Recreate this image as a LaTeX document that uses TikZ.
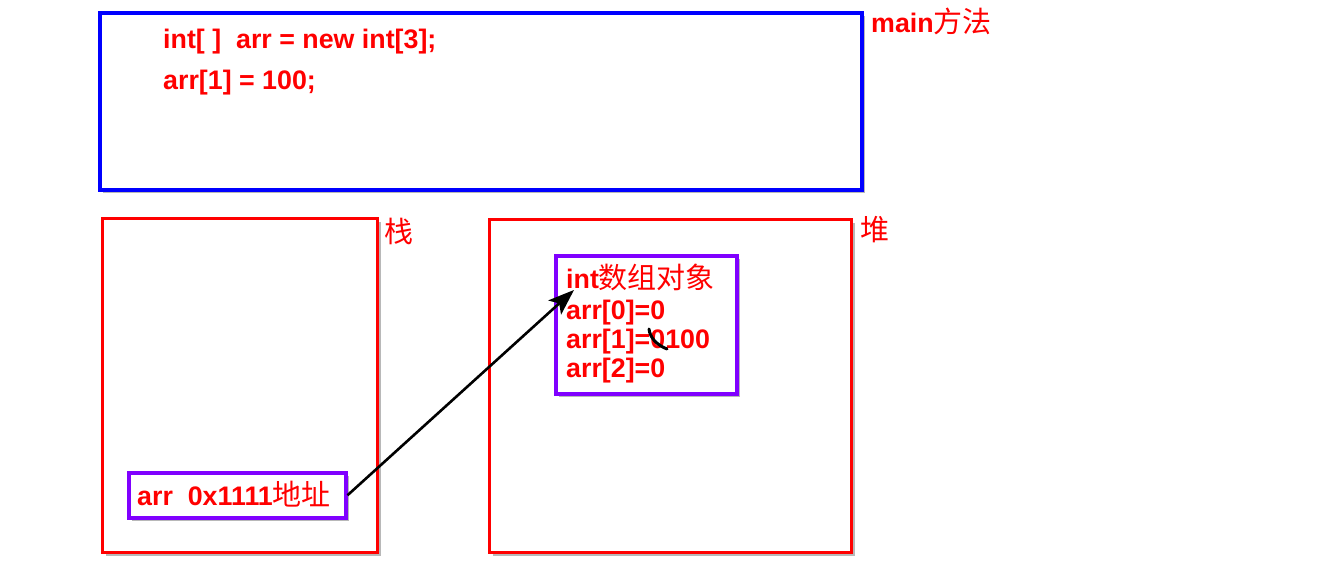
\documentclass[tikz,border=0pt]{standalone}
\usepackage{fontspec}
\setmainfont{Liberation Sans}
\newfontfamily\cjk{Noto Sans CJK SC}
\usetikzlibrary{shadows,arrows.meta}
\definecolor{myred}{RGB}{255,0,0}
\definecolor{myblue}{RGB}{0,0,255}
\definecolor{mypurple}{RGB}{128,0,255}
\newcommand{\zh}[1]{{\cjk\fontsize{29}{30}\selectfont #1}}
\tikzset{
  box/.style={rectangle, draw, fill=white, inner sep=0pt, anchor=north west,
    drop shadow={shadow xshift=3.5pt, shadow yshift=-3.5pt, opacity=0.5, fill=black!55}},
  bluebox/.style={box, draw=myblue, line width=3.5pt},
  redbox/.style={box, draw=myred, line width=3pt},
  purplebox/.style={box, draw=mypurple, line width=3.5pt},
  txt/.style={inner sep=0pt, anchor=base west, text=myred,
    font=\fontsize{26.8}{30}\selectfont\bfseries},
  lbl/.style={inner sep=0pt, text=myred},
  ptr/.style={draw=black, line width=2.6pt, -{Stealth[length=26pt, width=19pt, inset=6pt]}},
}
\begin{document}
\begin{tikzpicture}[x=1pt, y=-1pt]
\useasboundingbox[fill=white] (0,0) rectangle (1318,570);
% boxes
\node[bluebox, minimum width=762pt, minimum height=177pt] (main) at (98,11) {};
\node[redbox, minimum width=275pt, minimum height=334pt] (stack) at (101,217) {};
\node[redbox, minimum width=362pt, minimum height=333pt] (heap) at (488,218) {};
\node[purplebox, minimum width=181pt, minimum height=138pt] (arrobj) at (554,254) {};
\node[purplebox, minimum width=217pt, minimum height=45pt] (arrbox) at (127,471) {};
% labels
\node[txt] (mainlbl) at (871,32) {main\zh{\mdseries 方法}};
\node[lbl] (stacklbl) at (399,231) {\zh{栈}};
\node[lbl] (heaplbl) at (875,230) {\zh{堆}};
% code
\node[txt] (code1) at (163,48) {int[\ ]\ \ arr = new int[3];};
\node[txt] (code2) at (163,89) {arr[1] = 100;};
% array object
\node[txt] (a0) at (566,288) {int\zh{\mdseries 数组对象}};
\node[txt] (a1) at (566,319) {arr[0]=0};
\node[txt] (a2) at (566,348) {arr[1]=0100};
\node[txt] (a3) at (566,377) {arr[2]=0};
% stack var
\node[txt] (var) at (137,505) {arr\ \ 0x1111\zh{\mdseries 地址}};
% pointer
\coordinate (tip) at (574,290);
\draw[ptr] (arrbox.east) -- (tip);
% scribble
\coordinate (s1) at (649,329);
\coordinate (s2) at (667,349);
\draw[line width=3pt, line cap=round] (s1) .. controls (650,338) and (657,345) .. (s2);
\end{tikzpicture}
\end{document}
